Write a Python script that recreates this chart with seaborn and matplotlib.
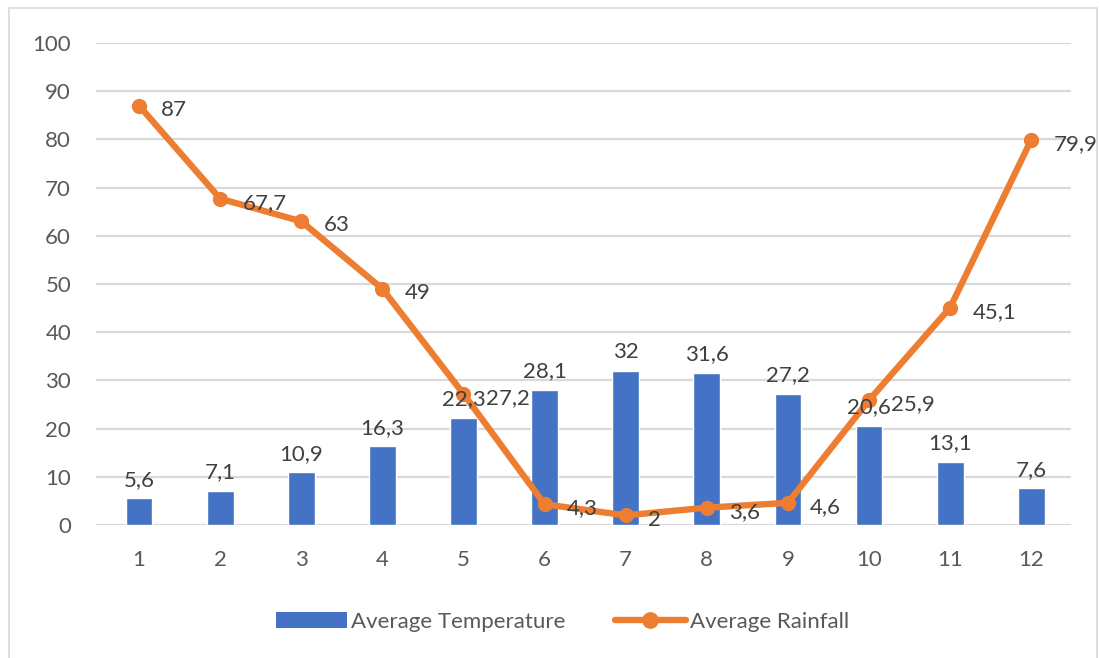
import matplotlib
matplotlib.use("Agg")
import matplotlib.pyplot as plt
import seaborn as sns
import numpy as np
import pandas as pd
from matplotlib.patches import Rectangle, Patch
from matplotlib.lines import Line2D

months = ["1", "2", "3", "4", "5", "6", "7", "8", "9", "10", "11", "12"]
temperature = [5.6, 7.1, 10.9, 16.3, 22.3, 28.1, 32, 31.6, 27.2, 20.6, 13.1, 7.6]
rainfall = [87, 67.7, 63, 49, 27.2, 4.3, 2, 3.6, 4.6, 25.9, 45.1, 79.9]

BLUE = "#4472C4"
ORANGE = "#ED7D31"
TXT = "#404040"
TICK = "#595959"


def comma(v):
    # Excel-style decimal comma
    s = f"{v:g}"
    return s.replace(".", ",")


sns.set_style("white")
plt.rcParams["font.family"] = ["Lato", "DejaVu Sans"]

df = pd.DataFrame({"month": months, "temp": temperature, "rain": rainfall})

fig = plt.figure(figsize=(10.99, 6.58), dpi=100)
ax = fig.add_axes([0.0874, 0.2021, 0.8871, 0.7326])

sns.barplot(data=df, x="month", y="temp", color=BLUE, width=0.33,
            saturation=1, ax=ax, zorder=2)
pos = np.arange(len(months))
sns.lineplot(x=pos, y=rainfall, color=ORANGE, linewidth=4.6, marker="o",
             markersize=11, markeredgewidth=0, ax=ax, zorder=3)

# labels
ax.bar_label(ax.containers[0], labels=[comma(v) for v in temperature],
             padding=6, fontsize=16, color=TXT)
for x, v in zip(pos, rainfall):
    ax.annotate(comma(v), (x, v), xytext=(16, -3), textcoords="offset points",
                ha="left", va="center", fontsize=16, color=TXT,
                annotation_clip=False, zorder=4)

ax.set_xlim(-0.53, 11.49)
ax.set_ylim(0, 100)
ax.set_yticks(range(0, 101, 10))
ax.grid(axis="y", color="#D9D9D9", linewidth=1.6, zorder=0)
ax.set_axisbelow(True)
for s in ax.spines.values():
    s.set_visible(False)
ax.set_xlabel("")
ax.set_ylabel("")
ax.tick_params(axis="both", length=0, labelsize=16, labelcolor=TICK)
ax.tick_params(axis="x", pad=18)
ax.tick_params(axis="y", pad=18)

handles = [Patch(facecolor=BLUE, edgecolor="none"),
           Line2D([0], [0], color=ORANGE, lw=4.6, marker="o", markersize=11)]
fig.legend(handles, ["Average Temperature", "Average Rainfall"],
           loc="center", bbox_to_anchor=(0.512, 0.055), ncol=2, frameon=False,
           fontsize=16, labelcolor=TICK, handlelength=3.2, handletextpad=0.2,
           columnspacing=2.2)

# chart border (bottom edge runs off the image)
fig.add_artist(Rectangle((9 / 1099, -0.02), 1088 / 1099, 650 / 658 + 0.02,
                         transform=fig.transFigure, fill=False,
                         edgecolor="#D9D9D9", linewidth=1.2))

fig.savefig("out.png", dpi=100)
